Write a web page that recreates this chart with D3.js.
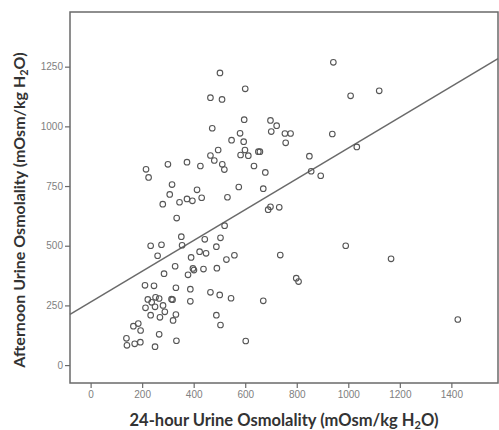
<!DOCTYPE html>
<html>
<head>
<meta charset="utf-8">
<script src="https://cdn.jsdelivr.net/npm/d3@7"></script>
<style>
  html, body { margin: 0; padding: 0; background: #fff; }
  svg { display: block; }
</style>
</head>
<body>
<div id="chart"></div>
<script>
// 24-hour urine osmolality (x) per subject
const dailyOsm = [
  502, 465, 510, 472, 495, 465, 480, 511, 519, 215, 225, 300, 374, 426, 575, 531,
  316, 307, 413, 431, 374, 395, 345, 280, 334, 352, 443, 504, 355, 233, 275, 260,
  423, 448, 488, 390, 328, 397, 401, 438, 490, 527, 558, 520, 285, 378, 211, 246,
  331, 387, 465, 501, 545, 314, 318, 387, 222, 252, 266, 237, 281, 213, 250, 288,
  233, 269, 331, 320, 488, 504, 166, 185, 194, 266, 139, 141, 171, 193, 250, 333,
  602, 670, 736, 798, 807, 990, 1166, 1425, 670, 634, 678, 856, 893, 698, 689, 732,
  1033, 849, 612, 582, 599, 651, 657, 757, 547, 594, 580, 698, 722, 701, 754, 776,
  938, 596, 600, 942, 1009, 1120
];
// afternoon urine osmolality (y), same order
const afternoonOsm = [
  1224, 1120, 1113, 992, 901, 878, 857, 841, 819, 820, 786, 841, 850, 834, 746, 703,
  756, 715, 734, 701, 696, 688, 682, 674, 616, 538, 527, 533, 502, 500, 504, 458,
  475, 468, 496, 451, 414, 405, 398, 402, 406, 442, 460, 584, 383, 378, 334, 332,
  324, 318, 305, 294, 280, 276, 274, 267, 275, 284, 279, 263, 250, 240, 244, 223,
  209, 200, 212, 187, 209, 168, 163, 174, 145, 129, 112, 83, 89, 96, 77, 102,
  101, 269, 461, 364, 350, 500, 445, 191, 739, 834, 807, 812, 793, 663, 651, 661,
  914, 875, 877, 880, 901, 894, 894, 931, 942, 936, 971, 1025, 1003, 978, 970, 970,
  968, 1028, 1157, 1268, 1128, 1149
];
const xTicks = [0, 200, 400, 600, 800, 1000, 1200, 1400];
const yTicks = [0, 250, 500, 750, 1000, 1250];
// linear fit line
const fitIntercept = 264;
const fitSlope = 0.645;

const width = 499, height = 430;
const margin = { top: 12, right: 1, bottom: 47, left: 70 };

const svg = d3.select("#chart").append("svg")
    .attr("width", width)
    .attr("height", height);

const x = d3.scaleLinear().domain([-80, 1581]).range([margin.left, width - margin.right]);
const y = d3.scaleLinear().domain([-75, 1479]).range([height - margin.bottom, margin.top]);

const grey = "#6a6a6a";

// plot frame
svg.append("rect")
    .attr("x", x.range()[0])
    .attr("y", y.range()[1])
    .attr("width", x.range()[1] - x.range()[0])
    .attr("height", y.range()[0] - y.range()[1])
    .attr("fill", "none")
    .attr("stroke", grey)
    .attr("stroke-width", 1.5);

// axes (plain integers, no thousands separator)
const xAxis = svg.append("g")
    .attr("transform", `translate(0,${y.range()[0]})`)
    .call(d3.axisBottom(x).tickValues(xTicks).tickFormat(d3.format("d")).tickSize(5).tickPadding(3));
const yAxis = svg.append("g")
    .attr("transform", `translate(${x.range()[0]},0)`)
    .call(d3.axisLeft(y).tickValues(yTicks).tickFormat(d3.format("d")).tickSize(5).tickPadding(2));

[xAxis, yAxis].forEach(g => {
  g.select(".domain").remove();
  g.selectAll(".tick line").attr("stroke", grey).attr("stroke-width", 1.2);
  g.selectAll(".tick text")
      .attr("fill", "#808080")
      .style("font-family", "'Liberation Sans', Arial, sans-serif")
      .style("font-size", "10px");
});

// fit line across the whole x range
const [x0, x1] = x.domain();
svg.append("line")
    .attr("x1", x(x0)).attr("y1", y(fitIntercept + fitSlope * x0))
    .attr("x2", x(x1)).attr("y2", y(fitIntercept + fitSlope * x1))
    .attr("stroke", grey)
    .attr("stroke-width", 1.5);

// open circle markers
svg.append("g")
  .selectAll("circle")
  .data(dailyOsm.map((d, i) => ({ x: d, y: afternoonOsm[i] })))
  .enter()
  .append("circle")
    .attr("cx", d => x(d.x))
    .attr("cy", d => y(d.y))
    .attr("r", 2.8)
    .attr("fill", "none")
    .attr("stroke", "#555")
    .attr("stroke-width", 1.1);

// axis titles with subscript 2
function addTitle(sel, main) {
  sel.append("tspan").text(main + " (mOsm/kg H");
  sel.append("tspan").attr("dy", 3).style("font-size", "11px").text("2");
  sel.append("tspan").attr("dy", -3).text("O)");
}

const xTitle = svg.append("text")
    .attr("x", (x.range()[0] + x.range()[1]) / 2)
    .attr("y", 426)
    .attr("text-anchor", "middle")
    .style("font-family", "Lato, 'Open Sans', sans-serif")
    .style("font-weight", "bold")
    .style("font-size", "16.5px")
    .attr("fill", "#333");
addTitle(xTitle, "24-hour Urine Osmolality");

const yTitle = svg.append("text")
    .attr("transform", `translate(25,210) rotate(-90)`)
    .attr("text-anchor", "middle")
    .style("font-family", "Lato, 'Open Sans', sans-serif")
    .style("font-weight", "bold")
    .style("font-size", "16px")
    .attr("fill", "#333");
addTitle(yTitle, "Afternoon Urine Osmolality");
</script>
</body>
</html>
